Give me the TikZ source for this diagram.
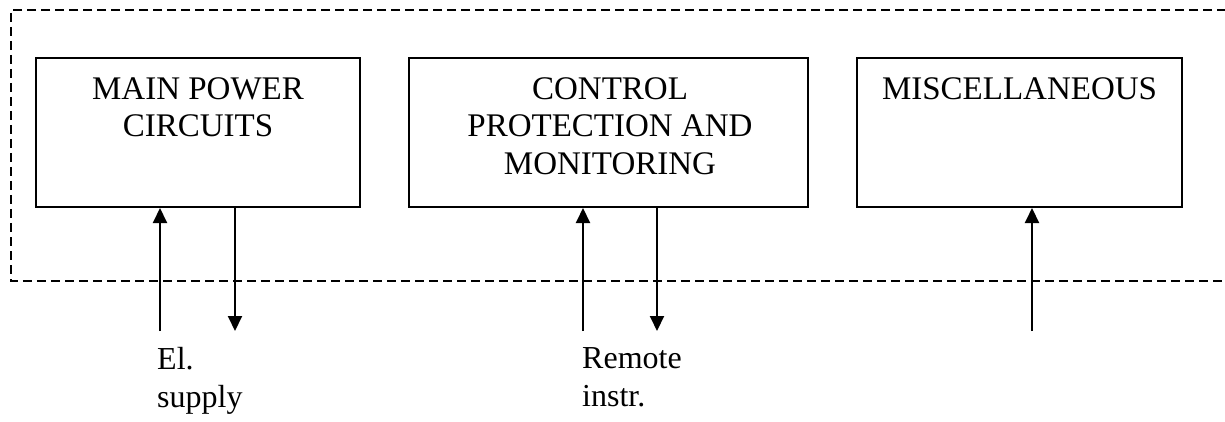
\documentclass[tikz,border=0pt]{standalone}
\usepackage{fontspec}
\setmainfont{Liberation Serif}
\usetikzlibrary{arrows.meta}
\begin{document}
\begin{tikzpicture}[x=1pt,y=-1pt,
  box/.style={draw, line width=2pt, inner sep=0pt, minimum width=#1, minimum height=149pt},
  boxtext/.style={inner sep=0pt, align=center, font=\fontsize{33}{37.5}\selectfont},
  lbl/.style={inner sep=0pt, align=left, font=\fontsize{32}{38}\selectfont},
  arr/.style={line width=2pt, -{Triangle[length=15pt,width=14pt]}},
  frame/.style={line width=2pt, dash pattern=on 9pt off 5pt}]
\clip (0,0) rectangle (1225,422);
\fill[white] (0,0) rectangle (1225,422);
% dashed enclosure, open to the right
\coordinate (f1) at (1240,10);
\coordinate (f2) at (11,10);
\coordinate (f3) at (11,281);
\coordinate (f4) at (1240,281);
\draw[frame] (f1) -- (f2) -- (f3) -- (f4);
% boxes
\node[box=324pt] (b1) at (198,132.5) {};
\node[box=399pt] (b2) at (608.5,132.5) {};
\node[box=325pt] (b3) at (1019.5,132.5) {};
\node[boxtext, anchor=north] (t1) at (198,77) {MAIN POWER\\CIRCUITS};
\node[boxtext, anchor=north] (t2) at (610,77) {CONTROL\\PROTECTION AND\\MONITORING};
\node[boxtext, anchor=north] (t3) at (1019.5,77) {MISCELLANEOUS};
% arrows
\coordinate (a1) at (160,331);
\coordinate (a2) at (235,331);
\coordinate (a3) at (583,331);
\coordinate (a4) at (657,331);
\coordinate (a5) at (1032,331);
\draw[arr] (a1) -- (a1 |- b1.south);
\draw[arr] (a2 |- b1.south) -- (a2);
\draw[arr] (a3) -- (a3 |- b2.south);
\draw[arr] (a4 |- b2.south) -- (a4);
\draw[arr] (a5) -- (a5 |- b3.south);
% labels
\node[lbl, anchor=north west] (l1) at (157,347) {El.\\supply};
\node[lbl, anchor=north west] (l2) at (582,347) {Remote\\instr.};
\end{tikzpicture}
\end{document}
